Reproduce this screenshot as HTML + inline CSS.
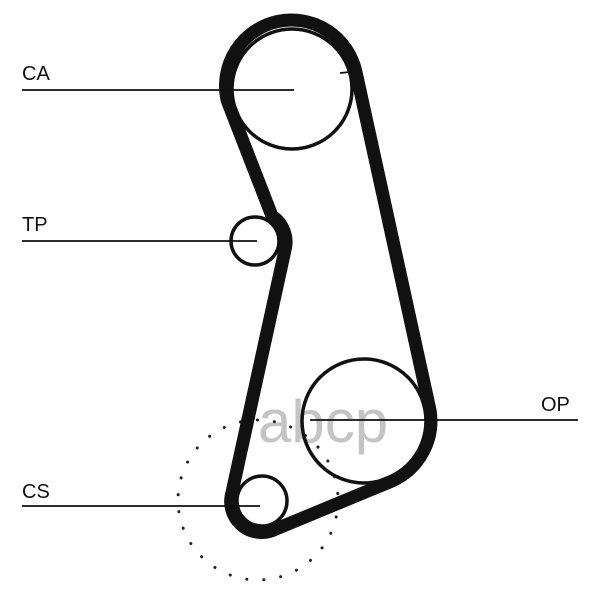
<!DOCTYPE html>
<html><head><style>
html,body{margin:0;padding:0;background:#fff;}
svg{display:block;}
text{font-family:"Liberation Sans",sans-serif;}
</style></head><body>
<svg width="600" height="600" viewBox="0 0 600 600" xmlns="http://www.w3.org/2000/svg">
<text x="258" y="442" font-size="60" fill="#c4c4c4">abcp</text>
<circle cx="258" cy="500" r="80" fill="none" stroke="#222" stroke-width="3" stroke-dasharray="0.1 17" stroke-linecap="round"/>
<g fill="none" stroke="#111">
<circle cx="292" cy="89" r="60" stroke-width="3.5"/>
<circle cx="255" cy="241" r="24" stroke-width="3.5"/>
<circle cx="364" cy="421" r="62" stroke-width="3.5"/>
<circle cx="262" cy="501" r="25" stroke-width="3.5"/>
<path d="M356,72 A66,66 0 0 0 227,100 L272,216 A31,31 0 0 1 285,250 L231,497 A31,31 0 0 0 276,529 L392,481 A66,66 0 0 0 430,410 Z" stroke-width="13" stroke-linejoin="round"/>
<g stroke-width="1.8">
<line x1="22" y1="90" x2="294" y2="90"/>
<line x1="22" y1="241" x2="257" y2="241"/>
<line x1="22" y1="506" x2="260" y2="506"/>
<line x1="310" y1="420" x2="578" y2="420"/>
<line x1="340" y1="73" x2="350" y2="72"/>
</g>
</g>
<g font-size="20" fill="#111">
<text x="22" y="80">CA</text>
<text x="22" y="231">TP</text>
<text x="22" y="498">CS</text>
<text x="541" y="411">OP</text>
</g>
</svg>
</body></html>
